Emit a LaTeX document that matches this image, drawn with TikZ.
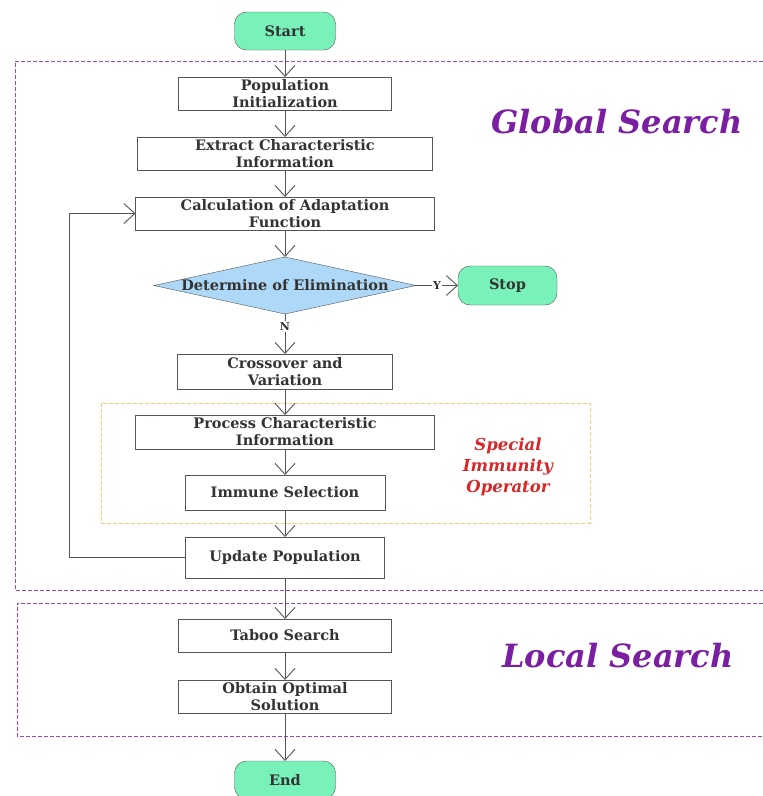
\documentclass[tikz,border=0pt]{standalone}
\usepackage{fontspec}
\setmainfont{DejaVu Serif}
\usetikzlibrary{arrows.meta,positioning,shapes.geometric}
\definecolor{termgreen}{RGB}{120,242,185}
\definecolor{decblue}{RGB}{173,216,247}
\definecolor{regionpurple}{RGB}{155,70,195}
\definecolor{titlepurple}{RGB}{123,31,162}
\definecolor{opred}{RGB}{214,40,40}
\definecolor{oporange}{RGB}{255,200,120}
\definecolor{linegray}{RGB}{85,85,85}
\definecolor{textgray}{RGB}{51,51,51}

\begin{document}
\begin{tikzpicture}[
  x=1pt, y=-1pt,
  font=\fontsize{14.5}{17}\selectfont\bfseries,
  box/.style={draw=linegray, align=center, text=textgray, minimum height=33pt, inner sep=0pt, outer sep=0pt},
  term/.style={box, rounded corners=12pt, fill=termgreen, minimum width=101pt, minimum height=38pt},
  decision/.style={diamond, draw=linegray, fill=decblue, minimum width=262pt, minimum height=57pt, inner sep=0pt, outer sep=0pt},
  arrow/.style={-{Straight Barb[length=11pt,width=20pt]}, draw=linegray, line width=0.9pt},
  region/.style={draw=regionpurple, dash pattern=on 4pt off 2pt, line width=0.8pt},
  title/.style={text=titlepurple, font=\fontsize{32}{36}\selectfont\bfseries\itshape},
  yn/.style={fill=white, inner sep=1.5pt, text=textgray, font=\fontsize{11}{12}\selectfont\bfseries}
]
\useasboundingbox (0,0) rectangle (763,796);

% search regions
\draw[region] (763,61) -- (15,61) -- (15,590) -- (763,590);
\draw[region] (763,603) -- (17,603) -- (17,736) -- (763,736);
\draw[draw=oporange, dash pattern=on 4pt off 2pt, line width=0.8pt] (101,403) rectangle (590,523);

\node[term] (start) at (285,31) {Start};
\node[box, minimum width=213pt, below=27pt of start] (init) {Population\\Initialization};
\node[box, minimum width=295pt, below=27pt of init] (extract) {Extract Characteristic\\Information};
\node[box, minimum width=299pt, below=27pt of extract] (calc) {Calculation of Adaptation\\Function};
\node[decision, below=27pt of calc, label={[text=textgray]center:Determine of Elimination}] (elim) {};
\node[term, minimum width=99pt, minimum height=39pt, right=42pt of elim] (stop) {Stop};
\node[box, minimum width=215pt, minimum height=35pt, below=40pt of elim] (cross) {Crossover and\\Variation};
\node[box, minimum width=299pt, minimum height=34pt, below=26pt of cross] (process) {Process Characteristic\\Information};
\node[box, minimum width=200pt, minimum height=35pt, below=26pt of process] (immune) {Immune Selection};
\node[box, minimum width=199pt, minimum height=41pt, below=27pt of immune] (update) {Update Population};
\node[box, minimum width=213pt, below=41pt of update] (taboo) {Taboo Search};
\node[box, minimum width=213pt, below=28pt of taboo] (obtain) {Obtain Optimal\\Solution};
\node[term, below=48pt of obtain] (end) {End};

\node[title] (global) at (617,122) {Global Search};
\node[title] (local) at (618,656) {Local Search};
\node[text=opred, align=center, font=\fontsize{16.5}{21}\selectfont\bfseries\itshape] (special) at (508,467) {Special\\Immunity\\Operator};

\draw[arrow] (start) -- (init);
\draw[arrow] (init) -- (extract);
\draw[arrow] (extract) -- (calc);
\draw[arrow] (calc) -- (elim);
\draw[arrow] (elim) -- node[yn] {Y} (stop);
\draw[arrow] (elim) -- node[yn, pos=0.32] {N} (cross);
\draw[arrow] (cross) -- (process);
\draw[arrow] (process) -- (immune);
\draw[arrow] (immune) -- (update);
\draw[arrow] (update.west) -- ++(-116,0) |- (calc.west);
\draw[arrow] (update) -- (taboo);
\draw[arrow] (taboo) -- (obtain);
\draw[arrow] (obtain) -- (end);
\end{tikzpicture}
\end{document}
